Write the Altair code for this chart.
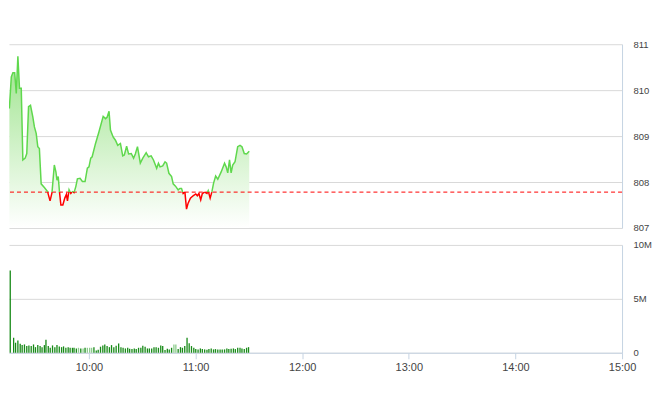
import altair as alt
import pandas as pd

# ---------------- data ----------------
REF_PRICE = 807.78  # reference (previous close)

# price series: minutes after 09:15 and index value
price_minutes = [0.2, 1.3, 2.2, 3.2, 4.1, 5.0, 5.9, 6.9, 7.8, 9.1, 10.0, 11.0, 12.1, 13.4, 14.3, 15.3,
                 16.2, 17.1, 18.1, 19.9, 21.7, 23.1, 24.2, 25.5, 26.4, 27.0, 27.7, 28.4, 29.2, 30.3,
                 31.4, 32.3, 32.9, 33.8, 34.8, 35.7, 36.6, 37.6, 38.5, 40.0, 41.3, 42.8, 44.1, 45.0,
                 46.0, 46.8, 48.7, 50.6, 53.0, 54.3, 55.2, 56.3, 57.1, 58.6, 59.9, 61.2, 62.7, 64.0,
                 64.9, 66.2, 67.3, 68.8, 70.1, 71.1, 72.3, 73.9, 75.3, 77.2, 78.5, 80.0, 81.3, 83.1,
                 84.1, 85.0, 86.5, 87.8, 88.7, 90.0, 91.5, 92.4, 93.7, 95.2, 96.2, 97.1, 98.0, 99.0,
                 99.9, 100.8, 102.1, 103.6, 105.1, 106.0, 106.9, 107.9, 108.8, 110.1, 111.4, 112.1,
                 113.2, 114.2, 115.1, 116.3, 117.5, 119.4, 121.3, 122.2, 123.1, 124.1, 125.0, 125.9,
                 127.2, 128.7, 130.0, 131.1, 132.4, 133.7, 135.2]
price_values = [809.60, 810.29, 810.38, 810.38, 809.93, 810.74, 810.04, 810.04, 808.48, 808.52,
                808.62, 809.64, 809.67, 809.42, 809.20, 809.06, 808.77, 808.73, 807.96, 807.88,
                807.79, 807.59, 807.77, 808.37, 808.22, 808.04, 808.12, 807.79, 807.50, 807.50,
                807.65, 807.73, 807.59, 807.83, 807.75, 807.79, 807.77, 807.90, 808.07, 808.08,
                808.01, 808.01, 808.30, 808.33, 808.52, 808.55, 808.84, 809.09, 809.43, 809.38,
                809.41, 809.54, 809.13, 808.98, 808.91, 808.80, 808.84, 808.57, 808.59, 808.78,
                808.61, 808.62, 808.52, 808.61, 808.77, 808.41, 808.52, 808.64, 808.55, 808.57,
                808.48, 808.30, 808.41, 808.33, 808.35, 808.44, 808.41, 808.19, 808.12, 807.96,
                807.91, 807.83, 807.86, 807.86, 807.75, 807.78, 807.41, 807.54, 807.65, 807.70,
                807.74, 807.70, 807.75, 807.61, 807.75, 807.78, 807.75, 807.81, 807.65, 807.79,
                807.97, 808.13, 808.06, 808.22, 808.41, 808.33, 808.20, 808.48, 808.20, 808.37,
                808.44, 808.77, 808.80, 808.77, 808.62, 808.61, 808.67]

# volume series (millions of shares)
volume_minutes = [0.7, 2.6, 3.7, 5.0, 6.3, 7.4, 8.7, 10.0, 11.2, 12.5, 13.8, 14.9, 16.2, 17.5, 18.6,
                  19.9, 20.8, 22.1, 23.2, 24.5, 25.8, 27.0, 28.3, 29.6, 30.7, 32.0, 33.3, 34.4, 35.7,
                  36.6, 37.9, 39.1, 40.4, 41.7, 42.8, 44.1, 45.4, 46.5, 47.8, 49.1, 50.2, 51.5, 52.8,
                  53.9, 55.2, 56.5, 57.7, 59.0, 60.3, 61.7, 63.0, 64.2, 65.5, 66.8, 67.9, 69.2, 70.5,
                  71.6, 72.9, 74.2, 75.3, 76.6, 77.9, 79.0, 80.3, 81.6, 82.8, 84.1, 85.4, 86.5, 87.8,
                  89.1, 90.2, 91.5, 92.8, 93.9, 95.2, 96.5, 97.6, 98.9, 100.2, 101.4, 102.7, 104.0,
                  105.1, 106.4, 107.7, 108.8, 110.1, 111.4, 112.5, 113.8, 115.1, 116.2, 117.5, 118.8,
                  120.0, 121.3, 122.6, 123.7, 125.0, 126.3, 127.4, 128.7, 130.0, 131.1, 132.4, 133.7,
                  134.8]
volume_values = [7.62, 1.39, 0.93, 1.14, 0.83, 0.71, 0.77, 0.62, 0.68, 0.62, 0.77, 0.52, 0.71, 0.62,
                 0.52, 0.71, 1.20, 0.62, 0.46, 0.68, 0.52, 0.71, 0.59, 0.52, 0.59, 0.46, 0.52, 0.46,
                 0.46, 0.46, 0.40, 0.46, 0.40, 0.40, 0.46, 0.46, 0.46, 0.46, 0.52, 0.22, 0.28, 0.56,
                 0.68, 0.77, 0.62, 0.52, 0.71, 0.52, 0.65, 0.86, 0.52, 0.46, 0.40, 0.46, 0.37, 0.34,
                 0.40, 0.34, 0.46, 0.46, 0.65, 0.56, 0.40, 0.40, 0.40, 0.52, 0.52, 0.46, 0.68, 0.62,
                 0.25, 0.37, 0.31, 0.46, 0.77, 0.77, 0.34, 0.52, 0.46, 0.62, 1.39, 0.89, 0.62, 0.46,
                 0.34, 0.31, 0.40, 0.34, 0.31, 0.28, 0.34, 0.40, 0.31, 0.34, 0.31, 0.31, 0.31, 0.31,
                 0.40, 0.34, 0.37, 0.40, 0.34, 0.46, 0.46, 0.40, 0.34, 0.46, 0.52]
light_bar_minutes = [39.1, 41.7, 44.1, 45.4, 46.5, 92.8, 93.9]

hour_ticks = [10, 11, 12, 13, 14, 15]
price_ticks = [807, 808, 809, 810, 811]
volume_ticks = [0, 5, 10]

# ---------------- frames ----------------
OPEN_HOUR = 9.25
price_df = pd.DataFrame({
    "hour": [OPEN_HOUR + m / 60 for m in price_minutes],
    "price": price_values,
})
price_df["base"] = 807

# split line into above / below reference runs
segs = []
pts = list(zip(price_df["hour"], price_df["price"]))
side = lambda v: "up" if v >= REF_PRICE else "down"
cur_side = side(pts[0][1])
cur = [pts[0]]
for (t0, v0), (t1, v1) in zip(pts[:-1], pts[1:]):
    s1 = side(v1)
    if s1 != cur_side:
        f = (REF_PRICE - v0) / (v1 - v0)
        tc = t0 + f * (t1 - t0)
        cur.append((tc, REF_PRICE))
        segs.append((cur_side, cur))
        cur = [(tc, REF_PRICE), (t1, v1)]
        cur_side = s1
    else:
        cur.append((t1, v1))
segs.append((cur_side, cur))
rows = []
for k, (s, p) in enumerate(segs):
    for i, (t, v) in enumerate(p):
        rows.append({"seg": k, "side": s, "i": i, "hour": t, "price": v})
line_df = pd.DataFrame(rows)

vol_df = pd.DataFrame({
    "hour": [OPEN_HOUR + m / 60 for m in volume_minutes],
    "vol": volume_values,
    "shade": ["light" if m in light_bar_minutes else "dark" for m in volume_minutes],
})

# ---------------- chart ----------------
W = 614
xscale = alt.Scale(domain=[OPEN_HOUR, 15], nice=False, zero=False)
GRID = "#d9d9d9"
BORDER = "#c6d4e3"
YLAB = 9.5

price_axis = alt.Axis(orient="right", values=price_ticks, grid=True, gridColor=GRID,
                      domain=True, domainColor=BORDER, ticks=False, tickSize=0,
                      labelPadding=11, labelColor="#444", labelFontSize=YLAB, title=None)

area = alt.Chart(price_df).mark_area(
    color=alt.Gradient(gradient="linear",
                       stops=[alt.GradientStop(color="#9de38c", offset=0),
                              alt.GradientStop(color="#ffffff", offset=1)],
                       x1=1, x2=1, y1=0, y2=1),
).encode(
    x=alt.X("hour:Q", scale=xscale, axis=None),
    y=alt.Y("price:Q", scale=alt.Scale(domain=[807, 811], nice=False, zero=False), axis=price_axis),
    y2="base:Q",
)

line = alt.Chart(line_df).mark_line(strokeWidth=1.5, clip=True).encode(
    x=alt.X("hour:Q", scale=xscale, axis=None),
    y=alt.Y("price:Q"),
    detail="seg:N",
    order="i:Q",
    color=alt.Color("side:N", scale=alt.Scale(domain=["up", "down"], range=["#5fd84d", "#ff0000"]), legend=None),
)

ref = alt.Chart(pd.DataFrame({"ref": [REF_PRICE]})).mark_rule(
    color="#ff0000", strokeDash=[4, 3], strokeWidth=1
).encode(y="ref:Q")

top = alt.layer(area, ref, line).properties(width=W, height=184)

vol_axis = alt.Axis(orient="right", values=volume_ticks, grid=True, gridColor=GRID,
                    domain=True, domainColor=BORDER, ticks=False, tickSize=0,
                    labelPadding=11, labelColor="#444", labelFontSize=YLAB, title=None,
                    labelExpr="datum.value == 0 ? '0' : datum.value + 'M'")

bars = alt.Chart(vol_df).mark_rule(strokeWidth=1.3).encode(
    x=alt.X("hour:Q", scale=xscale,
            axis=alt.Axis(values=hour_ticks, labelExpr="datum.value + ':00'", grid=False,
                          domainColor=BORDER, tickColor=BORDER, tickSize=6, labelPadding=3,
                          labelFlush=False, labelColor="#444", labelFontSize=11, title=None)),
    y=alt.Y("vol:Q", scale=alt.Scale(domain=[0, 10], nice=False), axis=vol_axis),
    y2=alt.datum(0),
    color=alt.Color("shade:N", scale=alt.Scale(domain=["dark", "light"], range=["#178a17", "#8ccc8c"]), legend=None),
).properties(width=W, height=108)

chart = alt.vconcat(top, bars, spacing=7).resolve_scale(
    color="independent", y="independent"
).properties(
    padding={"left": 0, "top": 31, "right": 0, "bottom": 0}
).configure_view(stroke=None).configure_axis(
    labelFont="Liberation Sans"
)

chart.save("out.html", embed_options={"renderer": "svg", "actions": False})
